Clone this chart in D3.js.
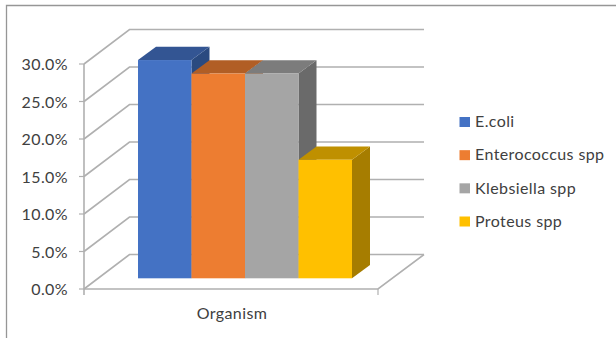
<!DOCTYPE html>
<html>
<head>
<meta charset="utf-8">
<script src="https://cdn.jsdelivr.net/npm/d3@7"></script>
<style>
  html, body { margin: 0; padding: 0; background: #fff; }
  svg { display: block; }
  text { font-family: Lato, "Open Sans", sans-serif; fill: #404040; letter-spacing: 0.4px; }
</style>
</head>
<body>
<div id="chart"></div>
<script>
const category = "Organism";
const organisms = ["E.coli", "Enterococcus spp", "Klebsiella spp", "Proteus spp"];
const prevalence = [29.1, 27.3, 27.3, 15.8];
const tickValues = [0, 5, 10, 15, 20, 25, 30];
const faceColors = ["#4472c4", "#ed7d31", "#a5a5a5", "#ffc000"];
const topColors = ["#335593", "#b15e25", "#7c7c7c", "#bf9000"];
const sideColors = ["#2a4a80", "#a05520", "#6a6a6a", "#a67d00"];

const width = 616, height = 338;
const svg = d3.select("#chart").append("svg").attr("width", width).attr("height", height);

// Outer frame of the chart area
svg.append("path")
  .attr("d", "M6.5,338V5.5H616")
  .attr("fill", "none").attr("stroke", "#969696").attr("stroke-width", 1.3);

// Oblique projection: wall depth is the shift from the front plane to the back wall
const y = d3.scaleLinear().domain([0, 30]).range([289, 64]);
const floorLeft = 84, floorRight = 378;
const wallDx = 45.5, wallDy = -34.5;

const gridColor = "#b0b0b0";
const grid = svg.append("g").attr("fill", "none").attr("stroke", gridColor).attr("stroke-width", 1.6);

// Floor outline plus one L-shaped gridline per tick across side and back walls
tickValues.forEach(t => {
  const py = y(t);
  grid.append("path").attr("d",
    `M${floorLeft},${py}L${floorLeft + wallDx},${py + wallDy}L${floorRight + wallDx + 0.5},${py + wallDy}`);
});
grid.append("path").attr("d",
  `M${floorLeft},${y(0)}L${floorRight},${y(0)}L${floorRight + wallDx + 0.5},${y(0) + wallDy}`);

// Vertical axis line with tick marks and labels
const axis = svg.append("g");
axis.append("line")
  .attr("x1", floorLeft).attr("x2", floorLeft)
  .attr("y1", y(30)).attr("y2", y(0) + 6)
  .attr("stroke", gridColor).attr("stroke-width", 1.6);
axis.append("line")
  .attr("x1", floorRight).attr("x2", floorRight)
  .attr("y1", y(0)).attr("y2", y(0) + 6)
  .attr("stroke", gridColor).attr("stroke-width", 1.2);
tickValues.forEach(t => {
  axis.append("line")
    .attr("x1", floorLeft - 5).attr("x2", floorLeft)
    .attr("y1", y(t)).attr("y2", y(t))
    .attr("stroke", gridColor).attr("stroke-width", 1.2);
  axis.append("text")
    .attr("x", 68).attr("y", y(t) + 6)
    .attr("text-anchor", "end").attr("font-size", 16)
    .text(t.toFixed(1) + "%");
});

// Category label under the floor
svg.append("text")
  .attr("x", 232).attr("y", 319)
  .attr("text-anchor", "middle").attr("font-size", 16)
  .text(category);

// Prism bars: front plane sits 10.7px above the front axis line
const x = d3.scaleBand().domain(organisms).range([138, 352]).padding(0);
const barBaseLift = 10.7;
const barDx = 18, barDy = -13.4;
const value = v => y(v) - barBaseLift;

const bars = svg.append("g").selectAll("g").data(organisms).join("g");
bars.each(function (name, i) {
  const g = d3.select(this);
  const x0 = x(name), x1 = x0 + x.bandwidth();
  const top = value(prevalence[i]), base = value(0);
  g.append("path")
    .attr("d", `M${x1},${top}L${x1 + barDx},${top + barDy}L${x1 + barDx},${base + barDy}L${x1},${base}Z`)
    .attr("fill", sideColors[i]);
  g.append("path")
    .attr("d", `M${x0},${top}L${x0 + barDx},${top + barDy}L${x1 + barDx},${top + barDy}L${x1},${top}Z`)
    .attr("fill", topColors[i]);
  g.append("rect")
    .attr("x", x0).attr("y", top)
    .attr("width", x.bandwidth()).attr("height", base - top)
    .attr("fill", faceColors[i]);
});

// Legend
const legendY = d3.scalePoint().domain(organisms).range([122, 221.5]);
const legend = svg.append("g").selectAll("g").data(organisms).join("g");
legend.append("rect")
  .attr("x", 459.5).attr("y", d => legendY(d) - 5)
  .attr("width", 10.5).attr("height", 10)
  .attr("fill", (d, i) => faceColors[i]);
legend.append("text")
  .attr("x", 475).attr("y", d => legendY(d) + 5.3)
  .attr("font-size", 16)
  .text(d => d);
</script>
</body>
</html>
